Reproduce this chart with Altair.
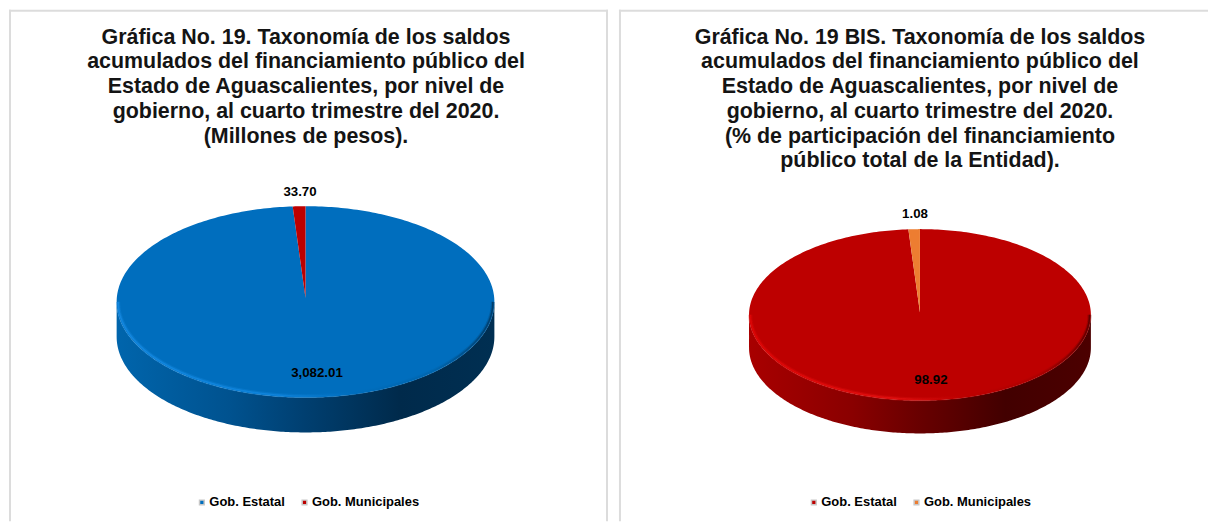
import altair as alt
import numpy as np
import pandas as pd

# ---- data ----
NIVELES = ["Gob. Estatal", "Gob. Municipales"]
SALDOS_MDP = [3082.01, 33.70]
PARTICIPACION = [98.92, 1.08]
ETIQUETAS_MDP = ["3,082.01", "33.70"]
ETIQUETAS_PCT = ["98.92", "1.08"]
TITULO_MDP = [
    "Gráfica No. 19. Taxonomía de los saldos",
    "acumulados del financiamiento público del",
    "Estado de Aguascalientes, por nivel de",
    "gobierno, al cuarto trimestre del 2020.",
    "(Millones de pesos).",
]
TITULO_PCT = [
    "Gráfica No. 19 BIS. Taxonomía de los saldos",
    "acumulados del financiamiento público del",
    "Estado de Aguascalientes, por nivel de",
    "gobierno, al cuarto trimestre del 2020.",
    "(% de participación del financiamiento",
    "público total de la Entidad).",
]

FONT = "Liberation Sans"
BORDER = "#dcdcdc"
PANEL_H = 513


def stops(pairs):
    return [alt.GradientStop(offset=o, color=c) for o, c in pairs]


def grad(pairs):
    return alt.Gradient(gradient="linear", x1=0, x2=1, y1=0, y2=0, stops=stops(pairs))


def panel(values, labels, title, colors, side, rim, ox, W, cx, a, cy, b, tip_dy, depth,
          label_pos, title_cx, legend_x, right_border):
    oy = 8
    xdom = [-(cx - ox) / a, (ox + W - cx) / a]
    ydom = [(cy - oy - PANEL_H) / b, (cy - oy) / b]
    xs = alt.Scale(domain=xdom, nice=False, zero=False)
    ys = alt.Scale(domain=ydom, nice=False, zero=False)
    X = alt.X("x:Q", scale=xs, axis=None)
    Y = alt.Y("y:Q", scale=ys, axis=None)

    frac = values[1] / sum(values)
    tip = tip_dy / b
    rows = []
    for name, t0, t1 in [(NIVELES[0], frac * 2 * np.pi, 2 * np.pi), (NIVELES[1], 0.0, frac * 2 * np.pi)]:
        ts = np.linspace(t0, t1, 361 if name == NIVELES[0] else 12)
        rows.append({"nivel": name, "i": 0, "x": 0.0, "y": tip})
        for i, t in enumerate(ts):
            rows.append({"nivel": name, "i": i + 1, "x": -np.sin(t), "y": np.cos(t)})
        rows.append({"nivel": name, "i": len(ts) + 1, "x": 0.0, "y": tip})
    wedges = pd.DataFrame(rows)

    th = np.linspace(np.pi, 2 * np.pi, 241)
    low = pd.DataFrame({"x": np.cos(th), "y": np.sin(th)})
    low["y2"] = low["y"] - depth / b
    inner = pd.DataFrame({"x": 0.992 * np.cos(th), "y": 0.985 * np.sin(th), "i": np.arange(len(th))})

    side_l = alt.Chart(low).mark_area(fill=grad(side), stroke=None).encode(
        x=X, y=Y, y2="y2:Q")
    top = alt.Chart(wedges).mark_line(strokeWidth=0, interpolate="linear").encode(
        x=X, y=Y, order="i:Q",
        fill=alt.Fill(
            "nivel:N",
            scale=alt.Scale(domain=NIVELES, range=colors),
            legend=alt.Legend(
                orient="none", legendX=legend_x, legendY=487.5, direction="horizontal",
                title=None, symbolType="square", symbolSize=22,
                symbolStrokeColor="#c8c8c8", symbolStrokeWidth=1.5,
                labelFont=FONT, labelFontWeight="bold", labelFontSize=13,
                labelColor="#000000", labelOffset=1, columnPadding=13,
                labelLimit=200,
            ),
        ),
    )
    rim_soft = alt.Chart(inner).mark_line(stroke=grad(rim), strokeWidth=4, opacity=0.35).encode(
        x=X, y=Y, order="i:Q")
    rim_l = alt.Chart(inner).mark_line(stroke=grad(rim), strokeWidth=1.6, opacity=0.9).encode(
        x=X, y=Y, order="i:Q")

    lab = pd.DataFrame({"t": labels, "px": [p[0] - ox for p in label_pos], "py": [p[1] - oy for p in label_pos]})
    lab_l = alt.Chart(lab).mark_text(font=FONT, fontWeight="bold", fontSize=13.3, color="#000000",
                                     align="center", baseline="middle").encode(
        x=alt.X("px:Q", scale=None), y=alt.Y("py:Q", scale=None), text="t:N")

    tit = pd.DataFrame({"t": title, "px": title_cx - ox,
                        "py": [36 - oy + 24.8 * i for i in range(len(title))]})
    tit_l = alt.Chart(tit).mark_text(font=FONT, fontWeight="bold", fontSize=21.5, color="#141414",
                                     align="center", baseline="middle").encode(
        x=alt.X("px:Q", scale=None), y=alt.Y("py:Q", scale=None), text="t:N")

    # panel frame: open at the bottom
    frame = [
        alt.Chart(pd.DataFrame({"k": [0]})).mark_rule(color=BORDER, strokeWidth=2).encode(
            x=alt.value(1), y=alt.value(0), y2=alt.value(PANEL_H)),
        alt.Chart(pd.DataFrame({"k": [0]})).mark_rule(color=BORDER, strokeWidth=2).encode(
            x=alt.value(0), x2=alt.value(W), y=alt.value(1)),
    ]
    if right_border:
        frame.append(alt.Chart(pd.DataFrame({"k": [0]})).mark_rule(color=BORDER, strokeWidth=2).encode(
            x=alt.value(W - 1), y=alt.value(0), y2=alt.value(PANEL_H)))

    return alt.layer(*frame, side_l, top, rim_soft, rim_l, lab_l, tit_l).properties(width=W, height=PANEL_H)


left = panel(
    SALDOS_MDP, ETIQUETAS_MDP, TITULO_MDP,
    ["#006ebe", "#bd0000"],
    [(0, "#0065ac"), (0.3, "#00528f"), (0.5, "#003f70"), (0.75, "#002a4b"), (1, "#002f52")],
    [(0, "#1488e0"), (0.42, "#0f84dc"), (0.62, "#006ebe"), (0.85, "#0064ac"), (1, "#003a66")],
    ox=8, W=601, cx=305.5, a=189.5, cy=301, b=96, tip_dy=4, depth=35,
    label_pos=[(317, 372), (300, 191)], title_cx=306, legend_x=187, right_border=True,
)
right = panel(
    PARTICIPACION, ETIQUETAS_PCT, TITULO_PCT,
    ["#bd0000", "#ed7d31"],
    [(0, "#a80000"), (0.3, "#8a0000"), (0.5, "#680000"), (0.75, "#420000"), (1, "#4c0000")],
    [(0, "#de0606"), (0.42, "#e21010"), (0.62, "#bd0000"), (0.85, "#ad0000"), (1, "#5a0000")],
    ox=618, W=591, cx=920, a=171.5, cy=314, b=86, tip_dy=2.3, depth=33,
    label_pos=[(931, 379), (915, 213)], title_cx=920, legend_x=189, right_border=False,
)

chart = alt.hconcat(left, right, spacing=9, padding=0).resolve_scale(
    fill="independent"
).configure_view(stroke=None)

chart.save("out.html", embed_options={"renderer": "svg", "actions": False})
